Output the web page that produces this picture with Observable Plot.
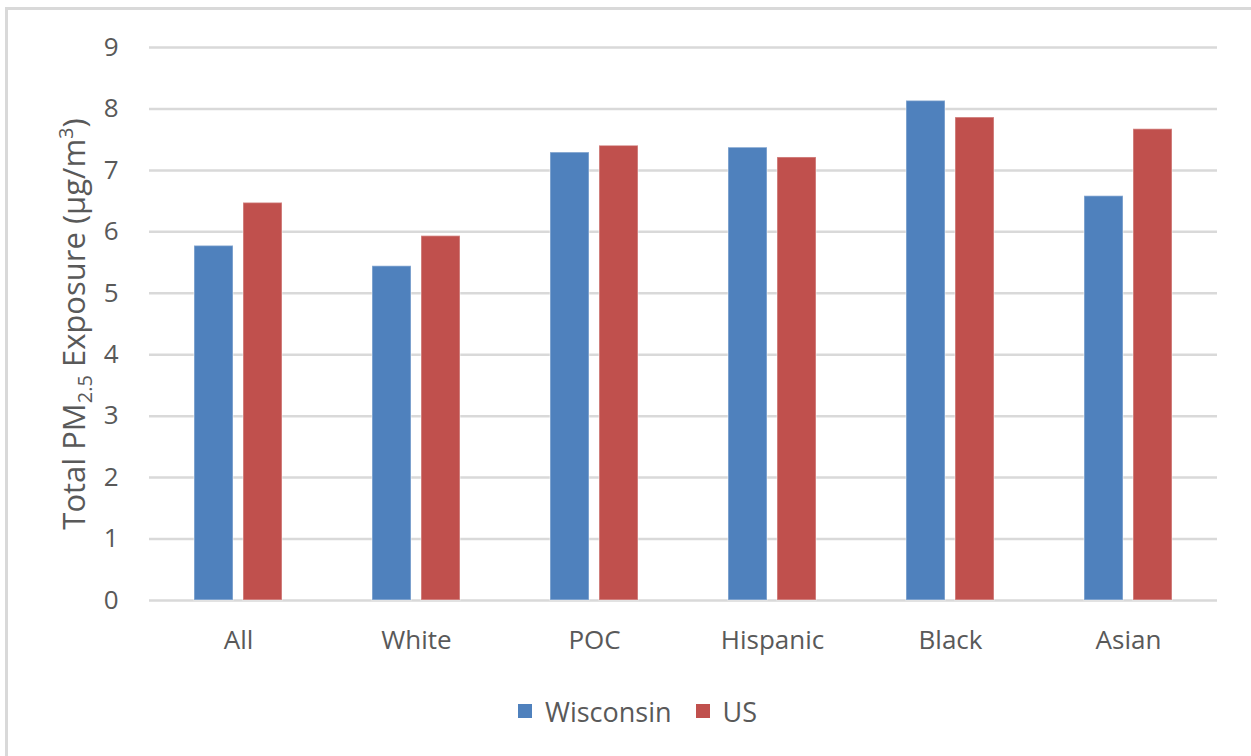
<!DOCTYPE html>
<html>
<head>
<meta charset="utf-8">
<script src="https://cdn.jsdelivr.net/npm/d3@7"></script>
<script src="https://cdn.jsdelivr.net/npm/@observablehq/plot@0.6"></script>
<style>
  html, body { margin: 0; padding: 0; background: #fff; }
  body { width: 1251px; height: 756px; position: relative; overflow: hidden;
         font-family: "Open Sans", sans-serif; color: #595959; }
  #frame { position: absolute; left: 5px; top: 7px; right: -4px; bottom: -4px;
           border-left: 3px solid #d9d9d9; border-top: 3px solid #d9d9d9; }
  #chart { position: absolute; left: 0; top: 0; }
  #legend { position: absolute; left: 0; width: 1251px; top: 690px; height: 42px; display: flex;
            justify-content: center; align-items: center; gap: 24px; font-size: 27px;
            padding-left: 24px; box-sizing: border-box; }
  #legend span.item { display: inline-flex; align-items: center; gap: 13px; }
  #legend span.sw { display: inline-block; width: 14px; height: 14px; }
</style>
</head>
<body>
<div id="frame"></div>
<div id="chart"></div>
<div id="legend"></div>
<script>
// Population groups and mean PM2.5 exposure for each region
const groups = ["All", "White", "POC", "Hispanic", "Black", "Asian"];
const series = ["Wisconsin", "US"];
const wisconsin = [5.77, 5.44, 7.29, 7.37, 8.13, 6.58];
const us = [6.47, 5.93, 7.40, 7.21, 7.86, 7.67];
const yTicks = [0, 1, 2, 3, 4, 5, 6, 7, 8, 9];
const colors = ["#4f81bd", "#c0504d"];

const rows = groups.flatMap((g, i) => [
  {group: g, series: "Wisconsin", value: wisconsin[i]},
  {group: g, series: "US", value: us[i]}
]);

const plot = Plot.plot({
  width: 1251,
  height: 680,
  marginLeft: 147,
  marginRight: 32,
  marginTop: 47,
  marginBottom: 80,
  style: {fontFamily: "'Open Sans', sans-serif", fontSize: "26px", color: "#595959", background: "transparent"},
  fx: {domain: groups, padding: 0, label: null, axis: "bottom", tickSize: 0, tickPadding: 30},
  x: {domain: series, paddingInner: 0.2, paddingOuter: 0.886, axis: null},
  y: {domain: [0, 9], ticks: yTicks, label: null, tickSize: 0, tickPadding: 31},
  color: {domain: series, range: colors},
  marks: [
    Plot.ruleY(yTicks, {stroke: "#d9d9d9", strokeWidth: 2.5, strokeOpacity: 1}),
    Plot.barY(rows, {fx: "group", x: "series", y: "value", fill: "series",
                     stroke: "#ffffff", strokeOpacity: 0.35, strokeWidth: 1.5})
  ]
});
document.getElementById("chart").appendChild(plot);

// Rotated axis title with PM subscript and m³ superscript
const svg = d3.select(plot);
const title = svg.append("text")
  .attr("transform", "translate(85,324) rotate(-90)")
  .attr("text-anchor", "middle")
  .attr("fill", "#595959")
  .style("font-size", "31px")
  .style("font-family", "'Open Sans', sans-serif");
title.append("tspan").text("Total PM");
title.append("tspan").attr("dy", 7).style("font-size", "20px").text("2.5");
title.append("tspan").attr("dy", -7).text(" Exposure (µg/m");
title.append("tspan").attr("dy", -12).style("font-size", "20px").text("3");
title.append("tspan").attr("dy", 12).text(")");

// Legend below the chart
const legend = d3.select("#legend");
series.forEach((s, i) => {
  const item = legend.append("span").attr("class", "item");
  item.append("span").attr("class", "sw").style("background", colors[i]);
  item.append("span").text(s);
});
</script>
</body>
</html>
